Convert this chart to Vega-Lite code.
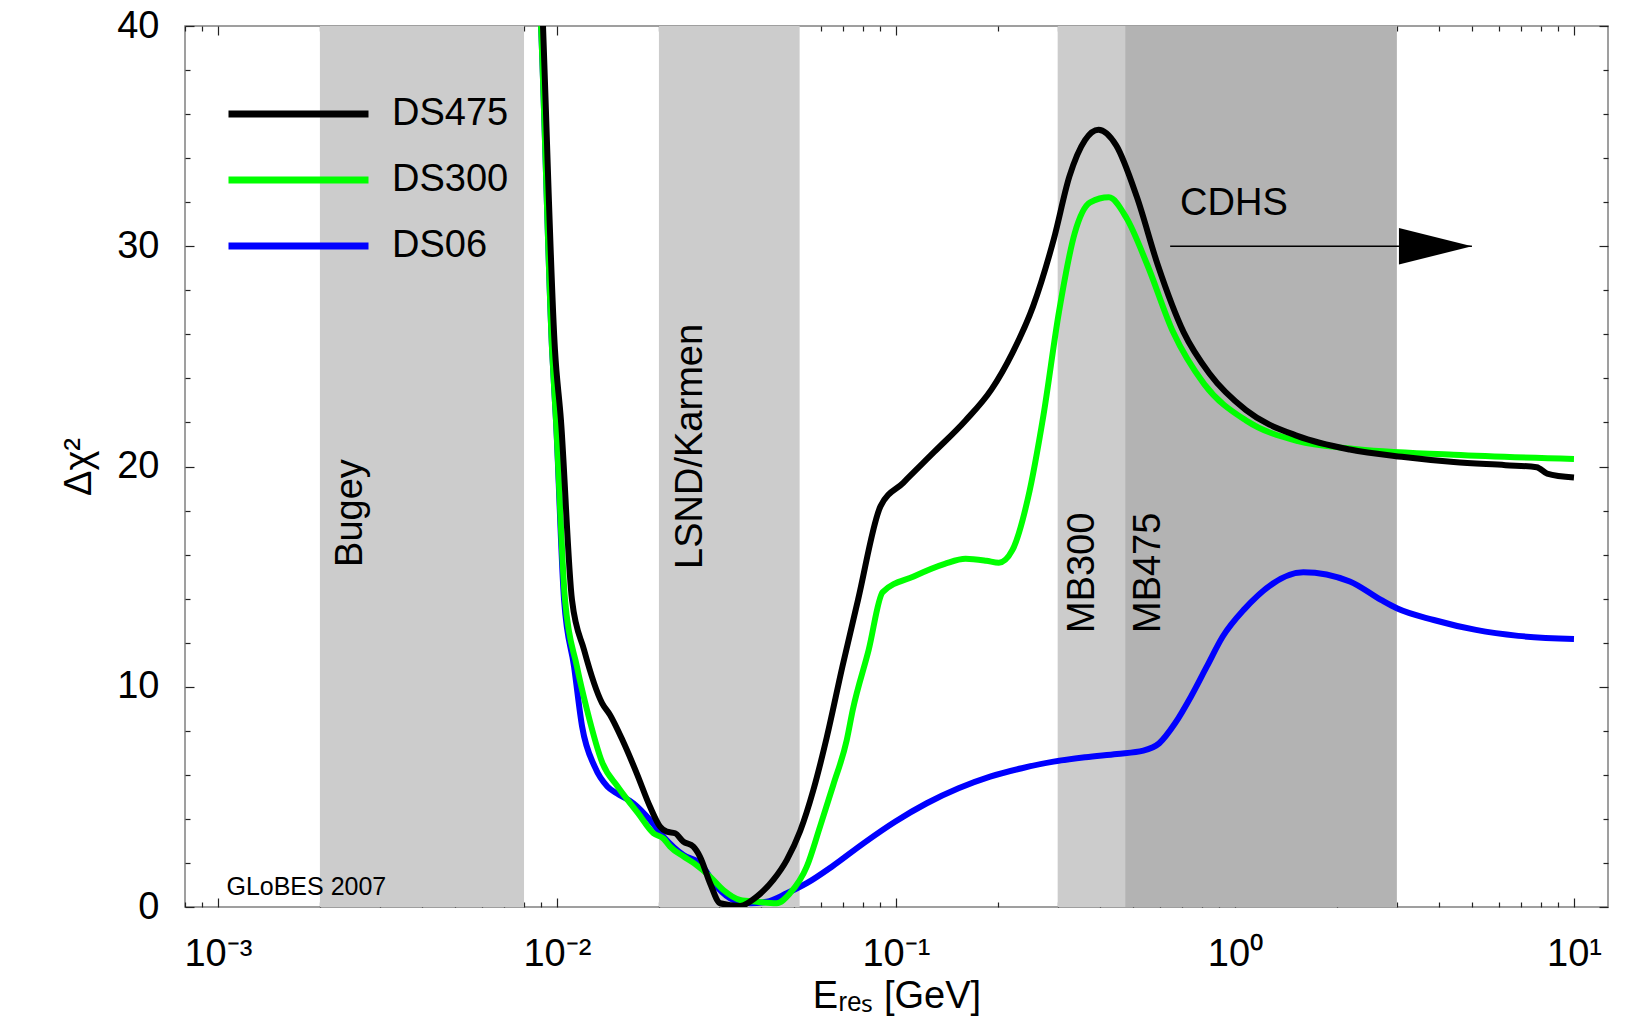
{
  "$schema": "https://vega.github.io/schema/vega-lite/v6.json",
  "width": 1423,
  "height": 881,
  "autosize": {"type": "none"},
  "padding": {"left": 185, "top": 26, "right": 20, "bottom": 109},
  "background": "white",
  "config": {
    "font": "Liberation Sans",
    "view": {"stroke": "#808080", "strokeWidth": 1.5},
    "axis": {"zindex": 1, "grid": false, "domain": false, "labelColor": "black", "titleColor": "black", "tickColor": "#222222", "tickWidth": 1.2, "labelFont": "Liberation Sans", "titleFont": "Liberation Sans", "titleFontWeight": "normal", "labelFlush": false, "labelOverlap": false},
    "text": {"font": "Liberation Sans", "color": "black"}
  },
  "datasets": {
    "curves": [
      {"series": "DS06", "E": 0.0088, "chi": 43},
      {"series": "DS06", "E": 0.00898, "chi": 40},
      {"series": "DS06", "E": 0.00968, "chi": 25.3},
      {"series": "DS06", "E": 0.00994, "chi": 22.1},
      {"series": "DS06", "E": 0.0105, "chi": 13.94},
      {"series": "DS06", "E": 0.01124, "chi": 10.91},
      {"series": "DS06", "E": 0.01187, "chi": 8.19},
      {"series": "DS06", "E": 0.01293, "chi": 6.37},
      {"series": "DS06", "E": 0.01411, "chi": 5.46},
      {"series": "DS06", "E": 0.01502, "chi": 5.16},
      {"series": "DS06", "E": 0.01681, "chi": 4.71},
      {"series": "DS06", "E": 0.01883, "chi": 3.95},
      {"series": "DS06", "E": 0.02062, "chi": 3.19},
      {"series": "DS06", "E": 0.02361, "chi": 2.36},
      {"series": "DS06", "E": 0.02644, "chi": 1.98},
      {"series": "DS06", "E": 0.02962, "chi": 0.92},
      {"series": "DS06", "E": 0.03316, "chi": 0.32},
      {"series": "DS06", "E": 0.03713, "chi": 0.17},
      {"series": "DS06", "E": 0.04159, "chi": 0.24},
      {"series": "DS06", "E": 0.04764, "chi": 0.62},
      {"series": "DS06", "E": 0.05458, "chi": 1.08},
      {"series": "DS06", "E": 0.0647, "chi": 1.83},
      {"series": "DS06", "E": 0.0802, "chi": 2.89},
      {"series": "DS06", "E": 0.0994, "chi": 3.87},
      {"series": "DS06", "E": 0.1233, "chi": 4.71},
      {"series": "DS06", "E": 0.153, "chi": 5.39},
      {"series": "DS06", "E": 0.1896, "chi": 5.92},
      {"series": "DS06", "E": 0.2352, "chi": 6.3},
      {"series": "DS06", "E": 0.2918, "chi": 6.6},
      {"series": "DS06", "E": 0.362, "chi": 6.8},
      {"series": "DS06", "E": 0.4485, "chi": 6.95},
      {"series": "DS06", "E": 0.5366, "chi": 7.1},
      {"series": "DS06", "E": 0.5975, "chi": 7.43},
      {"series": "DS06", "E": 0.6658, "chi": 8.34},
      {"series": "DS06", "E": 0.7415, "chi": 9.55},
      {"series": "DS06", "E": 0.8256, "chi": 10.91},
      {"series": "DS06", "E": 0.9196, "chi": 12.27},
      {"series": "DS06", "E": 1.0614, "chi": 13.49},
      {"series": "DS06", "E": 1.591, "chi": 15.2},
      {"series": "DS06", "E": 2.182, "chi": 14.78},
      {"series": "DS06", "E": 2.697, "chi": 13.94},
      {"series": "DS06", "E": 3.002, "chi": 13.56},
      {"series": "DS06", "E": 3.86, "chi": 13.03},
      {"series": "DS06", "E": 5.14, "chi": 12.58},
      {"series": "DS06", "E": 6.85, "chi": 12.31},
      {"series": "DS06", "E": 10, "chi": 12.17},
      {"series": "DS300", "E": 0.0088, "chi": 43},
      {"series": "DS300", "E": 0.00898, "chi": 40},
      {"series": "DS300", "E": 0.00968, "chi": 25.3},
      {"series": "DS300", "E": 0.00994, "chi": 22.1},
      {"series": "DS300", "E": 0.01057, "chi": 13.94},
      {"series": "DS300", "E": 0.01146, "chi": 10.91},
      {"series": "DS300", "E": 0.01227, "chi": 8.95},
      {"series": "DS300", "E": 0.01363, "chi": 6.53},
      {"series": "DS300", "E": 0.01512, "chi": 5.46},
      {"series": "DS300", "E": 0.01735, "chi": 4.26},
      {"series": "DS300", "E": 0.01927, "chi": 3.35},
      {"series": "DS300", "E": 0.02065, "chi": 3.1},
      {"series": "DS300", "E": 0.02158, "chi": 2.74},
      {"series": "DS300", "E": 0.0236, "chi": 2.3},
      {"series": "DS300", "E": 0.02542, "chi": 1.98},
      {"series": "DS300", "E": 0.0283, "chi": 1.38},
      {"series": "DS300", "E": 0.03097, "chi": 0.77},
      {"series": "DS300", "E": 0.0347, "chi": 0.32},
      {"series": "DS300", "E": 0.03887, "chi": 0.24},
      {"series": "DS300", "E": 0.04448, "chi": 0.17},
      {"series": "DS300", "E": 0.04868, "chi": 0.62},
      {"series": "DS300", "E": 0.05458, "chi": 1.83},
      {"series": "DS300", "E": 0.05973, "chi": 3.65},
      {"series": "DS300", "E": 0.06537, "chi": 5.55},
      {"series": "DS300", "E": 0.07161, "chi": 7.58},
      {"series": "DS300", "E": 0.0746, "chi": 8.95},
      {"series": "DS300", "E": 0.0831, "chi": 11.67},
      {"series": "DS300", "E": 0.0914, "chi": 14.3},
      {"series": "DS300", "E": 0.1128, "chi": 15.01},
      {"series": "DS300", "E": 0.1394, "chi": 15.58},
      {"series": "DS300", "E": 0.1605, "chi": 15.81},
      {"series": "DS300", "E": 0.1848, "chi": 15.72},
      {"series": "DS300", "E": 0.2012, "chi": 15.63},
      {"series": "DS300", "E": 0.2205, "chi": 16.2},
      {"series": "DS300", "E": 0.2451, "chi": 18.55},
      {"series": "DS300", "E": 0.2724, "chi": 22.33},
      {"series": "DS300", "E": 0.3028, "chi": 27.04},
      {"series": "DS300", "E": 0.3366, "chi": 30.58},
      {"series": "DS300", "E": 0.3741, "chi": 31.99},
      {"series": "DS300", "E": 0.4247, "chi": 32.22},
      {"series": "DS300", "E": 0.4788, "chi": 31.28},
      {"series": "DS300", "E": 0.5513, "chi": 29.16},
      {"series": "DS300", "E": 0.6577, "chi": 26.09},
      {"series": "DS300", "E": 0.8127, "chi": 23.73},
      {"series": "DS300", "E": 1.078, "chi": 22.09},
      {"series": "DS300", "E": 1.534, "chi": 21.15},
      {"series": "DS300", "E": 2.182, "chi": 20.82},
      {"series": "DS300", "E": 4.417, "chi": 20.53},
      {"series": "DS300", "E": 10, "chi": 20.34},
      {"series": "DS475", "E": 0.0089, "chi": 44},
      {"series": "DS475", "E": 0.0091, "chi": 40},
      {"series": "DS475", "E": 0.00987, "chi": 25.3},
      {"series": "DS475", "E": 0.01028, "chi": 22.1},
      {"series": "DS475", "E": 0.01108, "chi": 13.94},
      {"series": "DS475", "E": 0.01203, "chi": 11.67},
      {"series": "DS475", "E": 0.01359, "chi": 9.26},
      {"series": "DS475", "E": 0.01435, "chi": 8.72},
      {"series": "DS475", "E": 0.01561, "chi": 7.58},
      {"series": "DS475", "E": 0.0172, "chi": 6.07},
      {"series": "DS475", "E": 0.01883, "chi": 4.55},
      {"series": "DS475", "E": 0.02015, "chi": 3.65},
      {"series": "DS475", "E": 0.02109, "chi": 3.42},
      {"series": "DS475", "E": 0.02232, "chi": 3.35},
      {"series": "DS475", "E": 0.0236, "chi": 2.97},
      {"series": "DS475", "E": 0.02527, "chi": 2.74},
      {"series": "DS475", "E": 0.02644, "chi": 2.28},
      {"series": "DS475", "E": 0.0283, "chi": 1.08},
      {"series": "DS475", "E": 0.0303, "chi": 0.17},
      {"series": "DS475", "E": 0.0347, "chi": 0.05},
      {"series": "DS475", "E": 0.03887, "chi": 0.47},
      {"series": "DS475", "E": 0.04349, "chi": 1.23},
      {"series": "DS475", "E": 0.04764, "chi": 2.13},
      {"series": "DS475", "E": 0.0522, "chi": 3.45},
      {"series": "DS475", "E": 0.05708, "chi": 5.31},
      {"series": "DS475", "E": 0.06252, "chi": 7.7},
      {"series": "DS475", "E": 0.0695, "chi": 10.9},
      {"series": "DS475", "E": 0.0773, "chi": 13.94},
      {"series": "DS475", "E": 0.0901, "chi": 18.2},
      {"series": "DS475", "E": 0.1051, "chi": 19.26},
      {"series": "DS475", "E": 0.1299, "chi": 20.67},
      {"series": "DS475", "E": 0.1605, "chi": 22.09},
      {"series": "DS475", "E": 0.1914, "chi": 23.5},
      {"series": "DS475", "E": 0.2205, "chi": 25.15},
      {"series": "DS475", "E": 0.2538, "chi": 27.27},
      {"series": "DS475", "E": 0.2923, "chi": 30.33},
      {"series": "DS475", "E": 0.3249, "chi": 33.17},
      {"series": "DS475", "E": 0.3612, "chi": 34.82},
      {"series": "DS475", "E": 0.3959, "chi": 35.29},
      {"series": "DS475", "E": 0.4464, "chi": 34.58},
      {"series": "DS475", "E": 0.5141, "chi": 32.22},
      {"series": "DS475", "E": 0.5918, "chi": 29.16},
      {"series": "DS475", "E": 0.7061, "chi": 26.09},
      {"series": "DS475", "E": 0.8419, "chi": 24.21},
      {"series": "DS475", "E": 1.078, "chi": 22.56},
      {"series": "DS475", "E": 1.534, "chi": 21.38},
      {"series": "DS475", "E": 2.182, "chi": 20.77},
      {"series": "DS475", "E": 3.104, "chi": 20.44},
      {"series": "DS475", "E": 4.417, "chi": 20.2},
      {"series": "DS475", "E": 6.284, "chi": 20.06},
      {"series": "DS475", "E": 7.765, "chi": 19.97},
      {"series": "DS475", "E": 8.331, "chi": 19.68},
      {"series": "DS475", "E": 10, "chi": 19.5}
    ],
    "bands": [
      {"name": "Bugey", "lo": 0.002, "hi": 0.008},
      {"name": "LSND/Karmen", "lo": 0.02, "hi": 0.052},
      {"name": "MB300", "lo": 0.3, "hi": 3},
      {"name": "MB475", "lo": 0.475, "hi": 3}
    ],
    "bandlabels": [
      {"text": "Bugey", "E": 0.00266, "chi": 15.44},
      {"text": "LSND/Karmen", "E": 0.0268, "chi": 15.35},
      {"text": "MB300", "E": 0.384, "chi": 12.44},
      {"text": "MB475", "E": 0.601, "chi": 12.44}
    ],
    "cdhs": [
      {"text": "CDHS", "E": 0.689, "E1": 0.644, "E2": 5.0, "chi": 31.43, "arrow": 30}
    ],
    "credit": [
      {"text": "GLoBES 2007", "E": 0.00106, "chi": 0.55}
    ]
  },
  "layer": [
    {
      "data": {"name": "bands"},
      "mark": {"type": "rect", "color": "#cccccc"},
      "encoding": {
        "x": {"field": "lo", "type": "quantitative", "scale": {"type": "log", "domain": [0.0008, 12.6], "nice": false}, "axis": null},
        "x2": {"field": "hi"}
      }
    },
    {
      "data": {"name": "bands"},
      "transform": [{"filter": "datum.name === 'MB475'"}],
      "mark": {"type": "rect", "color": "#b3b3b3"},
      "encoding": {
        "x": {"field": "lo", "type": "quantitative", "scale": {"type": "log", "domain": [0.0008, 12.6], "nice": false}, "axis": null},
        "x2": {"field": "hi"}
      }
    },
    {
      "data": {"name": "bandlabels"},
      "mark": {"type": "text", "angle": 270, "align": "left", "baseline": "alphabetic", "fontSize": 38},
      "encoding": {
        "x": {"field": "E", "type": "quantitative", "scale": {"type": "log", "domain": [0.0008, 12.6], "nice": false},
              "axis": {"orient": "bottom", "values": [0.001, 0.01, 0.1, 1, 10], "labels": false, "tickSize": -9, "title": null}},
        "y": {"field": "chi", "type": "quantitative", "scale": {"domain": [0, 40], "nice": false, "zero": false},
              "axis": {"orient": "left", "values": [0, 10, 20, 30, 40], "labels": false, "tickSize": -9, "title": null}},
        "text": {"field": "text"}
      }
    },
    {
      "data": {"name": "cdhs"},
      "mark": {"type": "text", "align": "left", "baseline": "alphabetic", "fontSize": 38},
      "encoding": {
        "x": {"field": "E", "type": "quantitative", "scale": {"type": "log", "domain": [0.0008, 12.6], "nice": false},
              "axis": {"orient": "bottom", "values": [0.0008, 0.0009, 0.002, 0.003, 0.004, 0.005, 0.006, 0.007, 0.008, 0.009, 0.02, 0.03, 0.04, 0.05, 0.06, 0.07, 0.08, 0.09, 0.2, 0.3, 0.4, 0.5, 0.6, 0.7, 0.8, 0.9, 2, 3, 4, 5, 6, 7, 8, 9], "labels": false, "tickSize": -5, "title": null}},
        "y": {"field": "chi", "type": "quantitative", "scale": {"domain": [0, 40], "nice": false, "zero": false},
              "axis": {"orient": "left", "values": [2, 4, 6, 8, 12, 14, 16, 18, 22, 24, 26, 28, 32, 34, 36, 38], "labels": false, "tickSize": -5, "title": null}},
        "text": {"field": "text"}
      }
    },
    {
      "data": {"name": "cdhs"},
      "mark": {"type": "rule", "color": "black", "strokeWidth": 1.5},
      "encoding": {
        "x": {"field": "E1", "type": "quantitative", "scale": {"type": "log", "domain": [0.0008, 12.6], "nice": false},
              "axis": {"orient": "top", "values": [0.001, 0.01, 0.1, 1, 10], "labels": false, "tickSize": -9, "title": null}},
        "x2": {"field": "E2"},
        "y": {"field": "arrow", "type": "quantitative", "scale": {"domain": [0, 40], "nice": false, "zero": false},
              "axis": {"orient": "right", "values": [0, 10, 20, 30, 40], "labels": false, "tickSize": -9, "title": null}}
      }
    },
    {
      "data": {"name": "cdhs"},
      "mark": {"type": "point", "shape": "M-2,-0.5L0,0L-2,0.5Z", "size": 5329, "filled": true, "color": "black", "opacity": 1},
      "encoding": {
        "x": {"field": "E2", "type": "quantitative", "scale": {"type": "log", "domain": [0.0008, 12.6], "nice": false},
              "axis": {"orient": "top", "values": [0.0008, 0.0009, 0.002, 0.003, 0.004, 0.005, 0.006, 0.007, 0.008, 0.009, 0.02, 0.03, 0.04, 0.05, 0.06, 0.07, 0.08, 0.09, 0.2, 0.3, 0.4, 0.5, 0.6, 0.7, 0.8, 0.9, 2, 3, 4, 5, 6, 7, 8, 9], "labels": false, "tickSize": -5, "title": null}},
        "y": {"field": "arrow", "type": "quantitative", "scale": {"domain": [0, 40], "nice": false, "zero": false},
              "axis": {"orient": "right", "values": [2, 4, 6, 8, 12, 14, 16, 18, 22, 24, 26, 28, 32, 34, 36, 38], "labels": false, "tickSize": -5, "title": null}}
      }
    },
    {
      "data": {"name": "credit"},
      "mark": {"type": "text", "align": "left", "baseline": "alphabetic", "fontSize": 25},
      "encoding": {
        "x": {"field": "E", "type": "quantitative", "scale": {"type": "log", "domain": [0.0008, 12.6], "nice": false}, "axis": null},
        "y": {"field": "chi", "type": "quantitative", "scale": {"domain": [0, 40], "nice": false, "zero": false}, "axis": null},
        "text": {"field": "text"}
      }
    },
    {
      "data": {"name": "curves"},
      "mark": {"type": "line", "strokeWidth": 6, "clip": true, "interpolate": "monotone"},
      "encoding": {
        "x": {"field": "E", "type": "quantitative", "scale": {"type": "log", "domain": [0.0008, 12.6], "nice": false},
              "axis": {"orient": "bottom", "values": [0.001, 0.01, 0.1, 1, 10], "ticks": false, "labelFontSize": 38, "labelBaseline": "alphabetic", "labelPadding": 58, "labelAlign": "center",
                       "labelExpr": "datum.value < 0.005 ? '10⁻³' : datum.value < 0.05 ? '10⁻²' : datum.value < 0.5 ? '10⁻¹' : datum.value < 5 ? '10⁰' : '10¹'",
                       "title": "Eᵣₑₛ  [GeV]", "titleFontSize": 38, "titleBaseline": "alphabetic", "titleY": 100}},
        "y": {"field": "chi", "type": "quantitative", "scale": {"domain": [0, 40], "nice": false, "zero": false},
              "axis": {"orient": "left", "values": [0, 10, 20, 30, 40], "ticks": false, "labelFontSize": 38, "labelPadding": 26, "labelBaseline": "middle",
                       "title": "Δχ²", "titleFontSize": 38, "titleAngle": 270, "titleBaseline": "alphabetic", "titleX": -95}},
        "color": {"field": "series", "type": "nominal",
                  "scale": {"domain": ["DS475", "DS300", "DS06"], "range": ["#000000", "#00ff00", "#0000ff"]},
                  "legend": {"orient": "none", "legendX": 40, "legendY": 68, "title": null, "symbolType": "stroke", "symbolSize": 19600, "symbolStrokeWidth": 7,
                             "labelFontSize": 38, "labelFont": "Liberation Sans", "labelColor": "black", "labelOffset": 20, "rowPadding": 26, "clipHeight": 40, "padding": 0}}
      }
    }
  ],
  "resolve": {"axis": {"x": "independent", "y": "independent"}}
}
